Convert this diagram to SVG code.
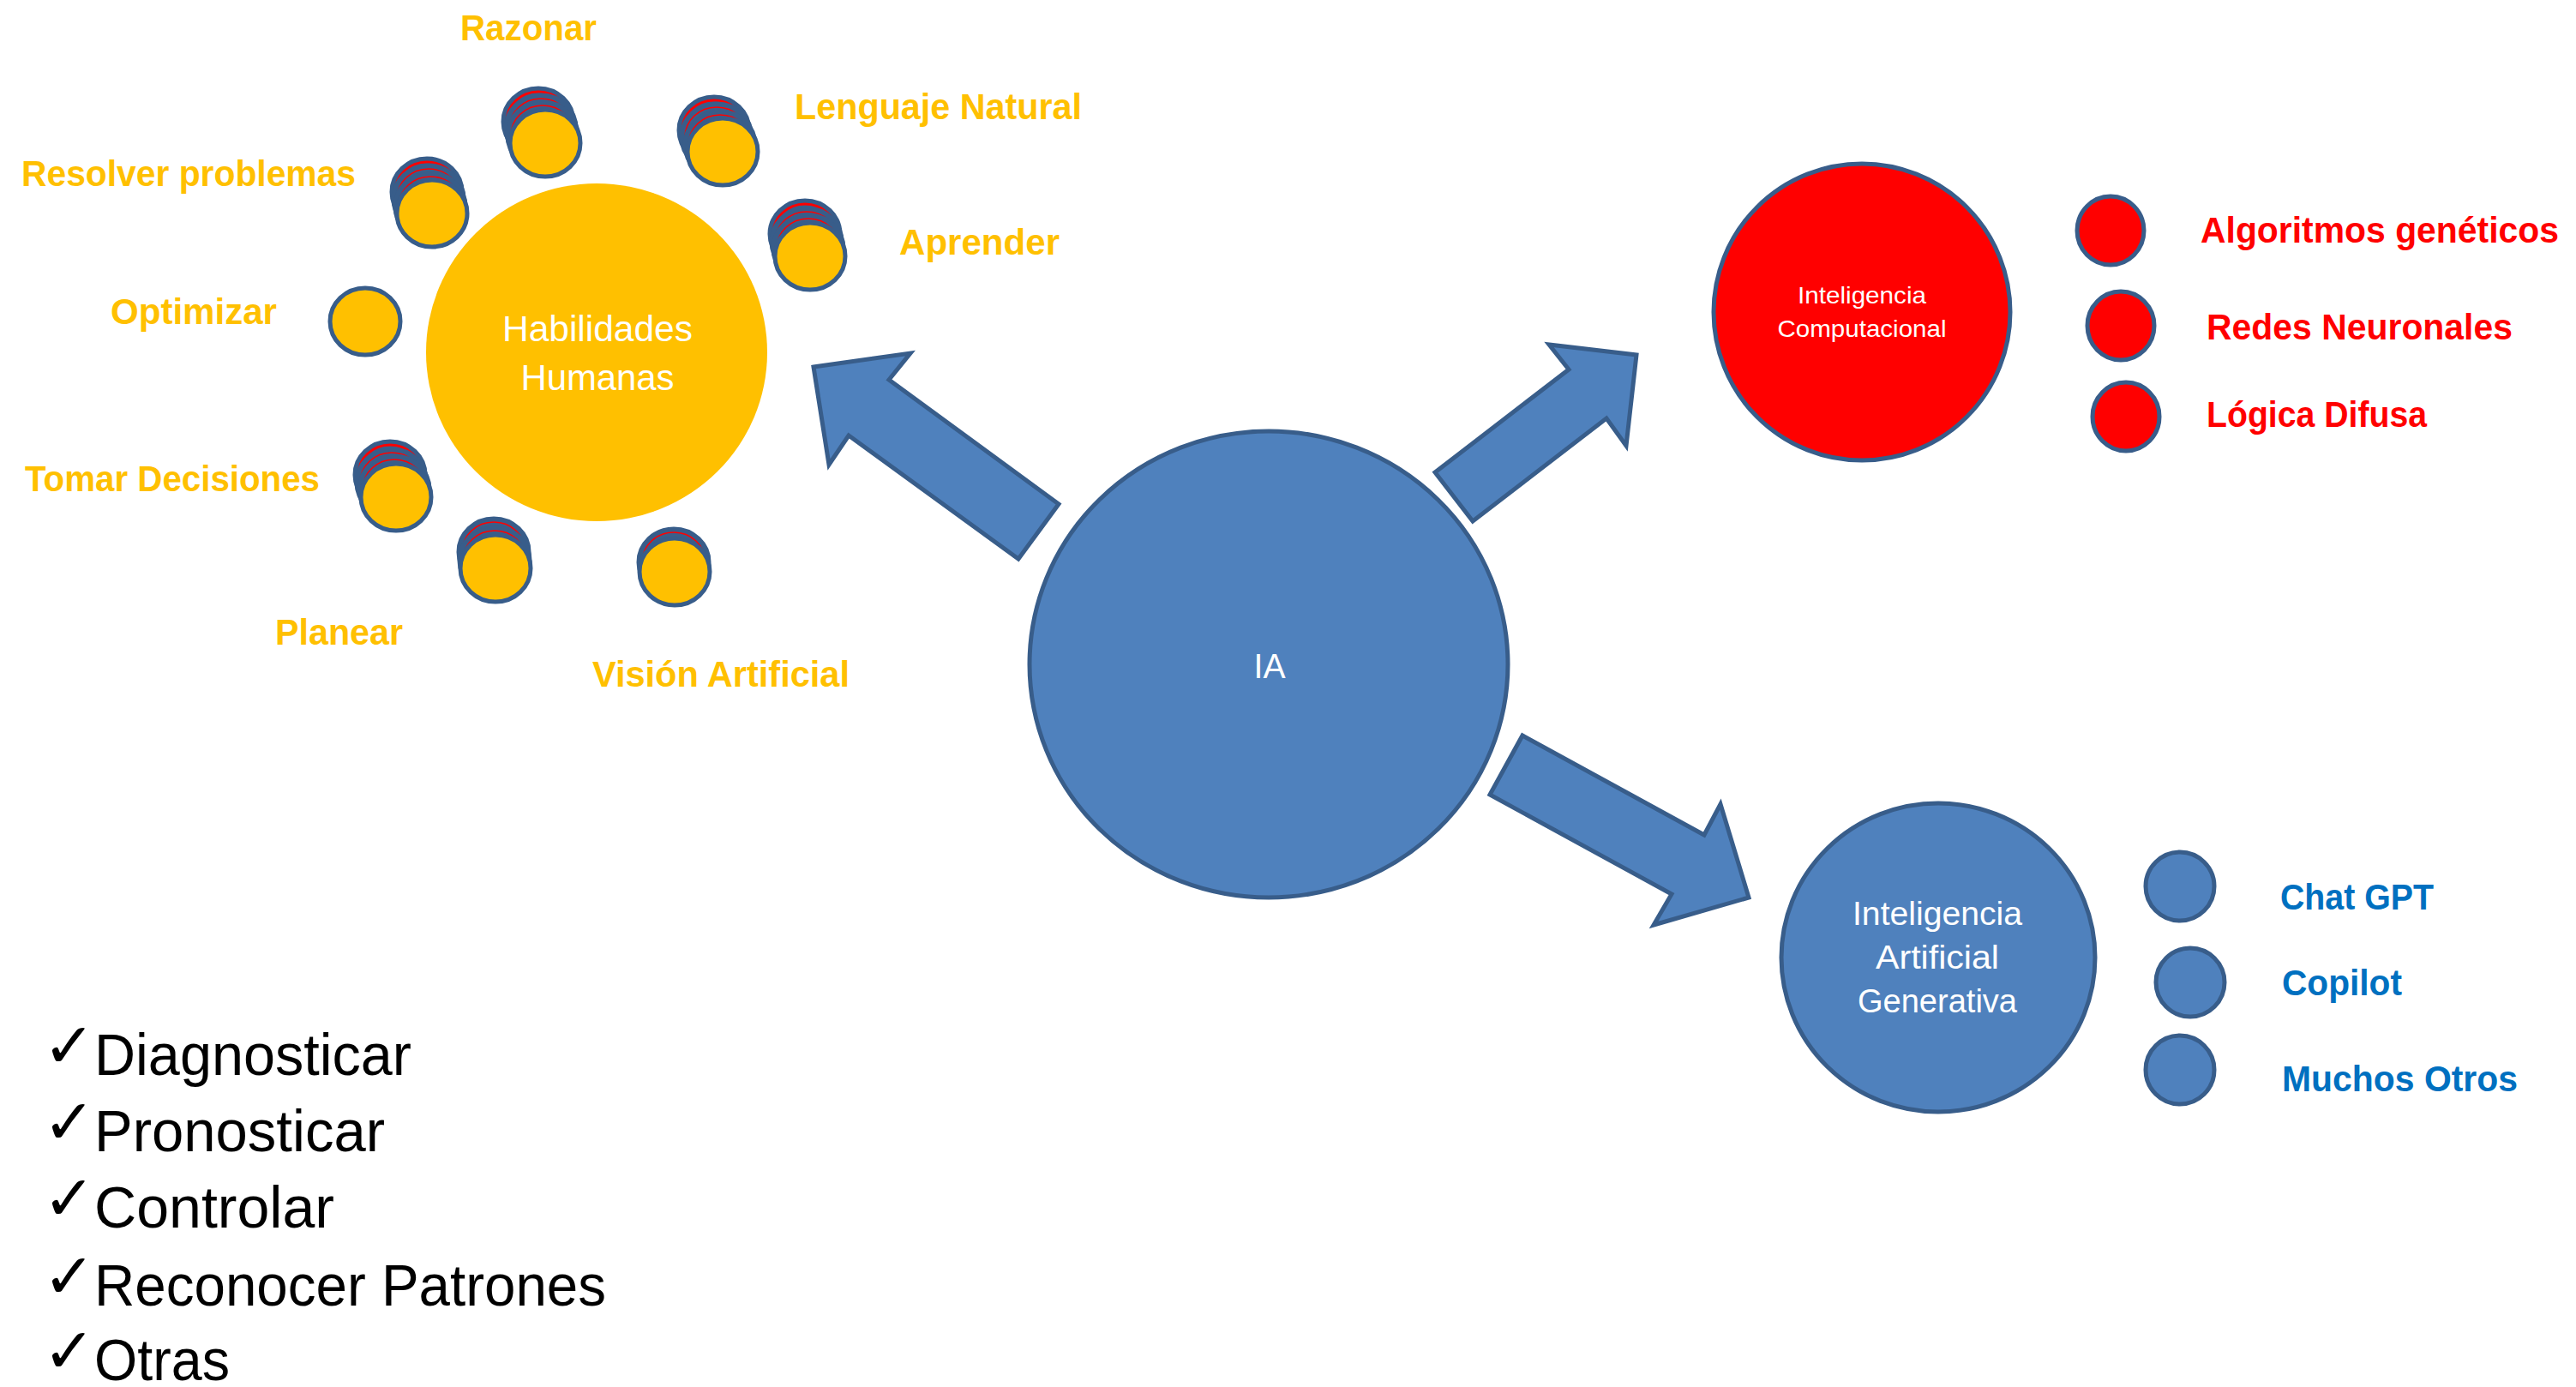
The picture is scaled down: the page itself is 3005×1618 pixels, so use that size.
<svg xmlns="http://www.w3.org/2000/svg" width="3005" height="1618" viewBox="0 0 3005 1618">
<defs>
<style>
.yl{font-family:"Liberation Sans",Arial,sans-serif;font-weight:bold;font-size:42px;fill:#FFC000}
.rl{font-family:"Liberation Sans",Arial,sans-serif;font-weight:bold;font-size:42px;fill:#FF0000}
.bl{font-family:"Liberation Sans",Arial,sans-serif;font-weight:bold;font-size:42px;fill:#0070C0}
.wt{font-family:"Liberation Sans",Arial,sans-serif;fill:#FFFFFF;text-anchor:middle}
.ck{font-family:"Liberation Sans",Arial,sans-serif;font-size:68px;fill:#000000}
.cm{font-family:"DejaVu Sans",sans-serif;font-size:73px;font-weight:bold;fill:#000000}
.arrow{fill:#4F81BD;stroke:#385D8A;stroke-width:5;stroke-linejoin:miter}
.big{fill:#4F81BD;stroke:#385D8A;stroke-width:5}
.sy{fill:#FFC000;stroke:#385D8A;stroke-width:5}
.sb{fill:#3A5F8B;stroke:#385D8A;stroke-width:5}
.rr{fill:none;stroke:#FF0000;stroke-width:1.6}
.rr3{fill:none;stroke:#FF0000;stroke-width:3}
.sr{fill:#FF0000;stroke:#385D8A;stroke-width:5}
.sbl{fill:#4F81BD;stroke:#385D8A;stroke-width:5}
</style>
</defs>
<rect width="3005" height="1618" fill="#FFFFFF"/>

<g id="connectors">
<polygon class="arrow" points="949,428 1062,412 1037,443 1235,588 1188,652 990,508 967,542"/>
<polygon class="arrow" points="1674,551 1830,431 1807,402 1909,414 1897,520 1874,488 1718,608"/>
<polygon class="arrow" points="1776,858 1988,974 2007,938 2040,1047 1929,1079 1950,1043 1738,927"/>
</g>

<g id="habilidades-humanas">
<ellipse cx="696" cy="411" rx="199" ry="197" fill="#FFC000"/>
<text class="wt" x="697" y="398" font-size="42" textLength="222" lengthAdjust="spacingAndGlyphs">Habilidades</text>
<text class="wt" x="697" y="455" font-size="42" textLength="179" lengthAdjust="spacingAndGlyphs">Humanas</text>
</g>

<g id="razonar">
<ellipse class="sb" cx="628" cy="142" rx="41" ry="39"/><ellipse class="rr3" cx="628" cy="142" rx="37" ry="35"/>
<ellipse class="sb" cx="631" cy="150" rx="41" ry="39"/><ellipse class="rr" cx="631" cy="150" rx="37" ry="35"/>
<ellipse class="sb" cx="633" cy="158" rx="41" ry="39"/><ellipse class="rr" cx="633" cy="158" rx="37" ry="35"/>
<ellipse class="sy" cx="636" cy="167" rx="41" ry="39"/>
<text class="yl" x="537" y="47" textLength="159" lengthAdjust="spacingAndGlyphs">Razonar</text>
</g>

<g id="lenguaje-natural">
<ellipse class="sb" cx="833" cy="152" rx="41" ry="39"/><ellipse class="rr3" cx="833" cy="152" rx="37" ry="35"/>
<ellipse class="sb" cx="836" cy="160" rx="41" ry="39"/><ellipse class="rr" cx="836" cy="160" rx="37" ry="35"/>
<ellipse class="sb" cx="840" cy="169" rx="41" ry="39"/><ellipse class="rr" cx="840" cy="169" rx="37" ry="35"/>
<ellipse class="sy" cx="843" cy="177" rx="41" ry="39"/>
<text class="yl" x="927" y="139" textLength="335" lengthAdjust="spacingAndGlyphs">Lenguaje Natural</text>
</g>

<g id="aprender">
<ellipse class="sb" cx="939" cy="273" rx="41" ry="39"/><ellipse class="rr3" cx="939" cy="273" rx="37" ry="35"/>
<ellipse class="sb" cx="941" cy="282" rx="41" ry="39"/><ellipse class="rr" cx="941" cy="282" rx="37" ry="35"/>
<ellipse class="sb" cx="943" cy="290" rx="41" ry="39"/><ellipse class="rr" cx="943" cy="290" rx="37" ry="35"/>
<ellipse class="sy" cx="945" cy="299" rx="41" ry="39"/>
<text class="yl" x="1049" y="297" textLength="187" lengthAdjust="spacingAndGlyphs">Aprender</text>
</g>

<g id="resolver-problemas">
<ellipse class="sb" cx="498" cy="224" rx="41" ry="39"/><ellipse class="rr3" cx="498" cy="224" rx="37" ry="35"/>
<ellipse class="sb" cx="500" cy="232" rx="41" ry="39"/><ellipse class="rr" cx="500" cy="232" rx="37" ry="35"/>
<ellipse class="sb" cx="502" cy="241" rx="41" ry="39"/><ellipse class="rr" cx="502" cy="241" rx="37" ry="35"/>
<ellipse class="sy" cx="504" cy="249" rx="41" ry="39"/>
<text class="yl" x="25" y="217" textLength="390" lengthAdjust="spacingAndGlyphs">Resolver problemas</text>
</g>

<g id="optimizar">
<ellipse class="sy" cx="426" cy="375" rx="41" ry="39"/>
<text class="yl" x="129" y="378" textLength="194" lengthAdjust="spacingAndGlyphs">Optimizar</text>
</g>

<g id="tomar-decisiones">
<ellipse class="sb" cx="455" cy="554" rx="41" ry="39"/><ellipse class="rr3" cx="455" cy="554" rx="37" ry="35"/>
<ellipse class="sb" cx="457" cy="563" rx="41" ry="39"/><ellipse class="rr" cx="457" cy="563" rx="37" ry="35"/>
<ellipse class="sb" cx="460" cy="571" rx="41" ry="39"/><ellipse class="rr" cx="460" cy="571" rx="37" ry="35"/>
<ellipse class="sy" cx="462" cy="580" rx="41" ry="39"/>
<text class="yl" x="29" y="573" textLength="344" lengthAdjust="spacingAndGlyphs">Tomar Decisiones</text>
</g>

<g id="planear">
<ellipse class="sb" cx="576" cy="644" rx="41" ry="39"/><ellipse class="rr" cx="576" cy="644" rx="37" ry="35"/>
<ellipse class="sb" cx="577" cy="654" rx="41" ry="39"/><ellipse class="rr" cx="577" cy="654" rx="37" ry="35"/>
<ellipse class="sy" cx="578" cy="663" rx="41" ry="39"/>
<text class="yl" x="321" y="752" textLength="149" lengthAdjust="spacingAndGlyphs">Planear</text>
</g>

<g id="vision-artificial">
<ellipse class="sb" cx="786" cy="656" rx="41" ry="39"/><ellipse class="rr" cx="786" cy="656" rx="37" ry="35"/>
<ellipse class="sy" cx="787" cy="667" rx="41" ry="39"/>
<text class="yl" x="691" y="801" textLength="300" lengthAdjust="spacingAndGlyphs">Visión Artificial</text>
</g>

<g id="ia">
<ellipse class="big" cx="1480" cy="775" rx="279" ry="272"/>
<text class="wt" x="1481" y="791" font-size="41" textLength="37" lengthAdjust="spacingAndGlyphs">IA</text>
</g>

<g id="inteligencia-computacional">
<circle cx="2172" cy="364" r="173" fill="#FF0000" stroke="#385D8A" stroke-width="5"/>
<text class="wt" x="2172" y="354" font-size="28" textLength="150" lengthAdjust="spacingAndGlyphs">Inteligencia</text>
<text class="wt" x="2172" y="393" font-size="28" textLength="197" lengthAdjust="spacingAndGlyphs">Computacional</text>
</g>

<g id="algoritmos-geneticos">
<ellipse class="sr" cx="2462" cy="269" rx="39" ry="40"/>
<text class="rl" x="2567" y="283" textLength="418" lengthAdjust="spacingAndGlyphs">Algoritmos genéticos</text>
</g>
<g id="redes-neuronales">
<ellipse class="sr" cx="2474" cy="380" rx="39" ry="40"/>
<text class="rl" x="2574" y="396" textLength="357" lengthAdjust="spacingAndGlyphs">Redes Neuronales</text>
</g>
<g id="logica-difusa">
<ellipse class="sr" cx="2480" cy="486" rx="39" ry="40"/>
<text class="rl" x="2574" y="498" textLength="257" lengthAdjust="spacingAndGlyphs">Lógica Difusa</text>
</g>

<g id="inteligencia-artificial-generativa">
<ellipse class="big" cx="2261" cy="1117" rx="183" ry="180"/>
<text class="wt" x="2260" y="1079" font-size="38" textLength="198" lengthAdjust="spacingAndGlyphs">Inteligencia</text>
<text class="wt" x="2260" y="1130" font-size="38" textLength="144" lengthAdjust="spacingAndGlyphs">Artificial</text>
<text class="wt" x="2260" y="1181" font-size="38" textLength="186" lengthAdjust="spacingAndGlyphs">Generativa</text>
</g>

<g id="chat-gpt">
<ellipse class="sbl" cx="2543" cy="1034" rx="40" ry="40"/>
<text class="bl" x="2660" y="1061" textLength="179" lengthAdjust="spacingAndGlyphs">Chat GPT</text>
</g>
<g id="copilot">
<ellipse class="sbl" cx="2555" cy="1146" rx="40" ry="40"/>
<text class="bl" x="2662" y="1161" textLength="140" lengthAdjust="spacingAndGlyphs">Copilot</text>
</g>
<g id="muchos-otros">
<ellipse class="sbl" cx="2543" cy="1248" rx="40" ry="40"/>
<text class="bl" x="2662" y="1273" textLength="275" lengthAdjust="spacingAndGlyphs">Muchos Otros</text>
</g>

<g id="lista">
<text class="cm" x="50" y="1245">✓</text>
<text class="ck" x="110" y="1254" textLength="370" lengthAdjust="spacingAndGlyphs">Diagnosticar</text>
<text class="cm" x="50" y="1334">✓</text>
<text class="ck" x="110" y="1343" textLength="339" lengthAdjust="spacingAndGlyphs">Pronosticar</text>
<text class="cm" x="50" y="1423">✓</text>
<text class="ck" x="110" y="1432" textLength="280" lengthAdjust="spacingAndGlyphs">Controlar</text>
<text class="cm" x="50" y="1514">✓</text>
<text class="ck" x="110" y="1523" textLength="597" lengthAdjust="spacingAndGlyphs">Reconocer Patrones</text>
<text class="cm" x="50" y="1601">✓</text>
<text class="ck" x="110" y="1610" textLength="158" lengthAdjust="spacingAndGlyphs">Otras</text>
</g>
</svg>
